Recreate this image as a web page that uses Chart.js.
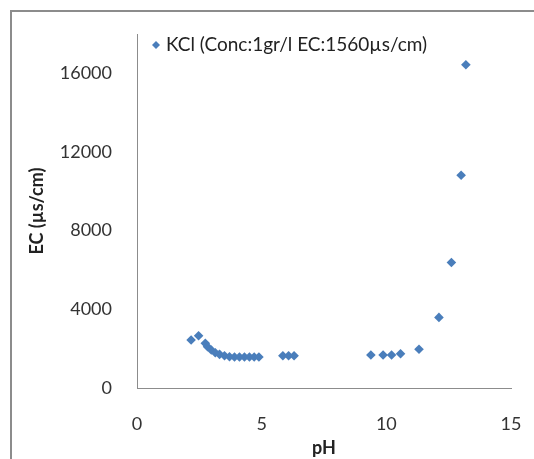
<!DOCTYPE html>
<html>
<head>
<meta charset="utf-8">
<script src="https://cdn.jsdelivr.net/npm/chart.js@4/dist/chart.umd.min.js"></script>
<style>
  html, body { margin: 0; padding: 0; background: #fff; }
  #wrap { position: relative; width: 534px; height: 459px; }
</style>
</head>
<body>
<div id="wrap"><canvas id="ecChart" width="534" height="459"></canvas></div>
<script>
// KCl solution: conductivity vs pH
const seriesLabel = 'KCl (Conc:1gr/l EC:1560\u00b5s/cm)';
const phValues = [2.17, 2.47, 2.74, 2.83, 2.98, 3.14, 3.31, 3.51, 3.71, 3.91, 4.11, 4.31, 4.51, 4.70, 4.89,
                  5.85, 6.08, 6.30, 9.38, 9.87, 10.21, 10.57, 11.31, 12.11, 12.61, 13.00, 13.19];
const ecValues = [2440, 2660, 2270, 2100, 1930, 1790, 1710, 1640, 1590, 1575, 1575, 1575, 1575, 1575, 1575,
                  1640, 1640, 1640, 1680, 1680, 1680, 1740, 1970, 3590, 6380, 10820, 16440];
const xTicks = [0, 5, 10, 15];
const yTicks = [0, 4000, 8000, 12000, 16000];

const FONT = 'Lato, "Open Sans", sans-serif';
const BLUE = '#4a7ebb';

// outer frame lines + legend drawn inside the plot
const framePlugin = {
  id: 'frame',
  beforeDraw(chart) {
    const ctx = chart.ctx;
    ctx.save();
    ctx.strokeStyle = '#8c8c8c';
    ctx.lineWidth = 2;
    ctx.beginPath();
    ctx.moveTo(11, chart.height);
    ctx.lineTo(11, 11);
    ctx.lineTo(chart.width, 11);
    ctx.stroke();
    ctx.restore();
  },
  afterDraw(chart) {
    const ctx = chart.ctx;
    const x = 156, y = 45;
    ctx.save();
    ctx.fillStyle = BLUE;
    ctx.beginPath();
    ctx.moveTo(x - 4, y);
    ctx.lineTo(x, y - 4);
    ctx.lineTo(x + 4, y);
    ctx.lineTo(x, y + 4);
    ctx.closePath();
    ctx.fill();
    ctx.fillStyle = '#222';
    ctx.font = '19px ' + FONT;
    ctx.textBaseline = 'middle';
    ctx.fillText(chart.data.datasets[0].label, x + 10, y);
    ctx.restore();
  }
};

new Chart(document.getElementById('ecChart'), {
  type: 'scatter',
  data: {
    datasets: [{
      label: seriesLabel,
      data: phValues.map((v, i) => ({ x: v, y: ecValues[i] })),
      pointStyle: 'rectRot',
      pointRadius: 4.8,
      pointBorderWidth: 0,
      backgroundColor: BLUE,
      borderColor: BLUE
    }]
  },
  options: {
    responsive: false,
    animation: false,
    layout: { padding: { top: 34, right: 23, left: 22, bottom: 0 } },
    plugins: { legend: { display: false }, tooltip: { enabled: false } },
    scales: {
      x: {
        type: 'linear',
        min: 0, max: 15,
        afterBuildTicks: s => { s.ticks = xTicks.map(v => ({ value: v })); },
        afterFit: s => { s.height = 71; s.paddingLeft = 0; s.paddingRight = 0; },
        grid: { display: false },
        border: { display: true, color: '#8c8c8c', width: 1 },
        ticks: { color: '#333', padding: 17, font: { family: FONT, size: 18 }, callback: v => String(v) },
        title: { display: true, text: 'pH', color: '#222', padding: { top: 0, bottom: 0 },
                 font: { family: FONT, size: 18, weight: 'bold' } }
      },
      y: {
        min: 0, max: 18000,
        afterBuildTicks: s => { s.ticks = yTicks.map(v => ({ value: v })); },
        afterFit: s => { s.width = 115; s.paddingTop = 0; s.paddingBottom = 0; },
        grid: { display: false },
        border: { display: true, color: '#8c8c8c', width: 1 },
        ticks: { color: '#333', padding: 17, font: { family: FONT, size: 18 }, callback: v => String(v) },
        title: { display: true, text: 'EC (\u00b5s/cm)', color: '#222', padding: { top: 4, bottom: 0 },
                 font: { family: FONT, size: 18, weight: 'bold' } }
      }
    }
  },
  plugins: [framePlugin]
});
</script>
</body>
</html>
